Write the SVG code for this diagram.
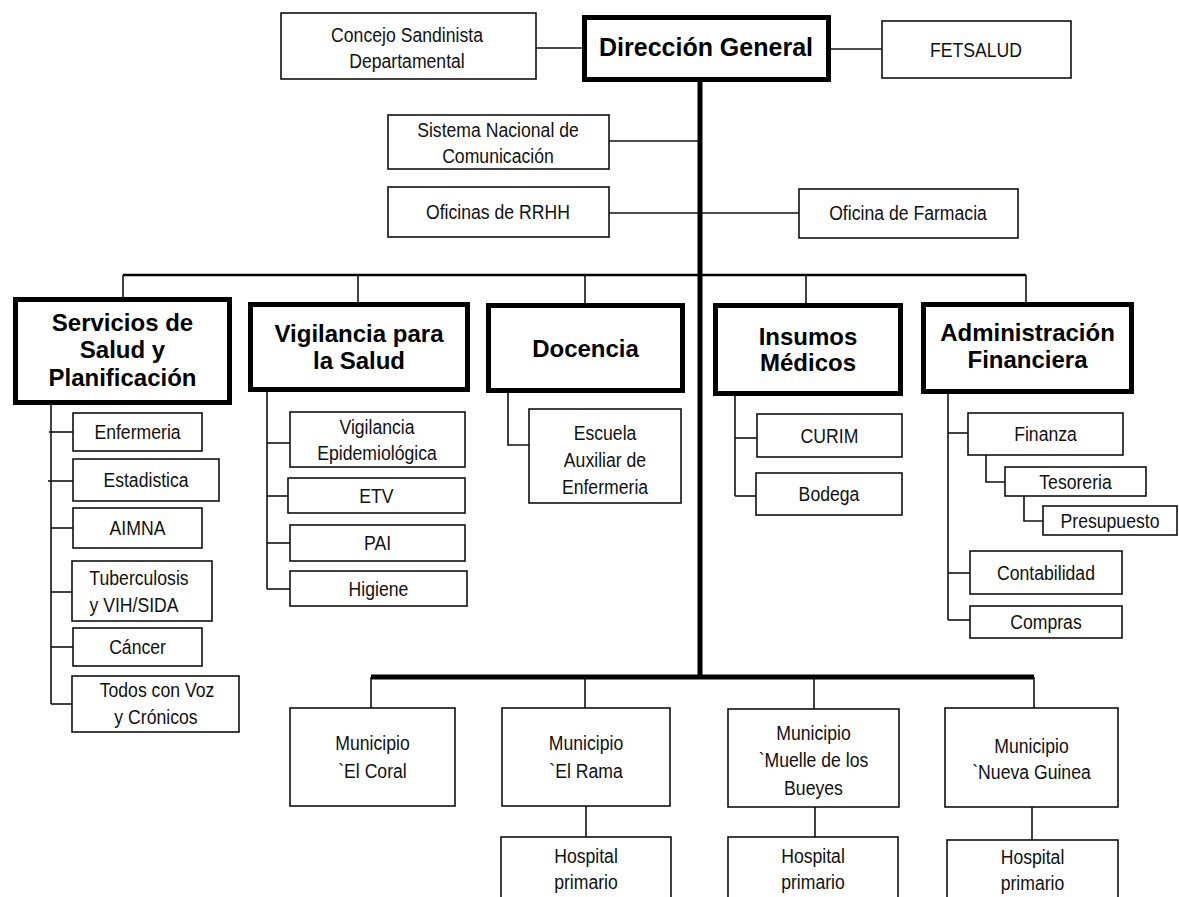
<svg xmlns="http://www.w3.org/2000/svg" width="1179" height="897" viewBox="0 0 1179 897">
<style>
  .bg { fill: #fff; }
  .box { fill: #fff; stroke: #111; stroke-width: 1.6; }
  .hbox { fill: #fff; stroke: #000; stroke-width: 5; }
  .ln { stroke: #111; stroke-width: 1.6; fill: none; }
  .bus { stroke: #000; stroke-width: 2.5; fill: none; }
  .trunk { stroke: #000; stroke-width: 5; fill: none; }
  .t { font-family: "Liberation Sans", Arial, sans-serif; font-size: 21px; text-anchor: middle; fill: #111;
       transform-box: fill-box; transform-origin: center; transform: scaleX(0.84); }
  .h { font-family: "Liberation Sans", Arial, sans-serif; font-size: 24px; font-weight: bold; text-anchor: middle; fill: #000; }
</style>
<rect class="bg" x="0" y="0" width="1179" height="897"/>

<!-- connectors -->
<g id="connectors">
  <!-- top level -->
  <line class="ln" x1="536" y1="48" x2="584" y2="48"/>
  <line class="ln" x1="829" y1="49" x2="882" y2="49"/>
  <line class="ln" x1="609" y1="141" x2="700" y2="141"/>
  <line class="ln" x1="609" y1="213" x2="799" y2="213"/>
  <line class="trunk" x1="700" y1="80" x2="700" y2="679"/>
  <!-- department bus -->
  <line class="bus" x1="123" y1="275" x2="1026" y2="275"/>
  <line class="ln" x1="123" y1="275" x2="123" y2="298"/>
  <line class="ln" x1="358" y1="275" x2="358" y2="303"/>
  <line class="ln" x1="585" y1="275" x2="585" y2="304"/>
  <line class="ln" x1="806" y1="275" x2="806" y2="304"/>
  <line class="ln" x1="1026" y1="275" x2="1026" y2="303"/>
  <!-- Servicios de Salud -->
  <line class="ln" x1="51" y1="404" x2="51" y2="704"/>
  <line class="ln" x1="49" y1="432" x2="73" y2="432"/>
  <line class="ln" x1="48" y1="481" x2="73" y2="481"/>
  <line class="ln" x1="51" y1="528" x2="73" y2="528"/>
  <line class="ln" x1="51" y1="592" x2="72" y2="592"/>
  <line class="ln" x1="51" y1="647" x2="73" y2="647"/>
  <line class="ln" x1="51" y1="704" x2="72" y2="704"/>
  <!-- Vigilancia -->
  <line class="ln" x1="267" y1="391" x2="267" y2="589"/>
  <line class="ln" x1="267" y1="443" x2="290" y2="443"/>
  <line class="ln" x1="267" y1="496" x2="288" y2="496"/>
  <line class="ln" x1="267" y1="543" x2="290" y2="543"/>
  <line class="ln" x1="267" y1="589" x2="290" y2="589"/>
  <!-- Docencia -->
  <polyline class="ln" points="508,392 508,445 529,445"/>
  <!-- Insumos -->
  <line class="ln" x1="735" y1="395" x2="735" y2="496"/>
  <line class="ln" x1="735" y1="438" x2="757" y2="438"/>
  <line class="ln" x1="735" y1="496" x2="756" y2="496"/>
  <!-- Administración -->
  <line class="ln" x1="948" y1="393" x2="948" y2="620"/>
  <line class="ln" x1="948" y1="433" x2="968" y2="433"/>
  <polyline class="ln" points="986,455 986,482 1005,482"/>
  <polyline class="ln" points="1024,496 1024,521 1043,521"/>
  <line class="ln" x1="948" y1="573" x2="970" y2="573"/>
  <line class="ln" x1="948" y1="620" x2="970" y2="620"/>
  <!-- municipal bus -->
  <line class="trunk" x1="371" y1="677" x2="1034" y2="677"/>
  <line class="ln" x1="371" y1="677" x2="371" y2="708"/>
  <line class="ln" x1="585" y1="677" x2="585" y2="708"/>
  <line class="ln" x1="814" y1="677" x2="814" y2="709"/>
  <line class="ln" x1="1034" y1="677" x2="1034" y2="708"/>
  <line class="ln" x1="586" y1="806" x2="586" y2="837"/>
  <line class="ln" x1="815" y1="807" x2="815" y2="837"/>
  <line class="ln" x1="1032" y1="807" x2="1032" y2="840"/>
</g>

<!-- top level -->
<g id="concejo"><rect class="box" x="281" y="13" width="255" height="66"/>
  <text class="t" x="407" y="42">Concejo Sandinista</text><text class="t" x="407" y="68">Departamental</text></g>
<g id="direccion"><rect class="hbox" x="584.5" y="17.5" width="244" height="62"/>
  <text class="h" x="706" y="56" style="font-size:25px">Dirección General</text></g>
<g id="fetsalud"><rect class="box" x="882" y="21" width="189" height="57"/>
  <text class="t" x="976" y="57">FETSALUD</text></g>
<g id="comunicacion"><rect class="box" x="388" y="115" width="221" height="54"/>
  <text class="t" x="498" y="137">Sistema Nacional de</text><text class="t" x="498" y="163">Comunicación</text></g>
<g id="rrhh"><rect class="box" x="388" y="187" width="221" height="50"/>
  <text class="t" x="498" y="219">Oficinas de RRHH</text></g>
<g id="farmacia"><rect class="box" x="799" y="189" width="219" height="49"/>
  <text class="t" x="908" y="220">Oficina de Farmacia</text></g>

<!-- departments -->
<g id="servicios"><rect class="hbox" x="15.5" y="299.5" width="214" height="103"/>
  <text class="h" x="122.5" y="331">Servicios de</text><text class="h" x="122.5" y="358">Salud y</text><text class="h" x="122.5" y="386">Planificación</text></g>
<g id="vigilancia"><rect class="hbox" x="250.5" y="304.5" width="217" height="85"/>
  <text class="h" x="359" y="342">Vigilancia para</text><text class="h" x="359" y="369">la Salud</text></g>
<g id="docencia"><rect class="hbox" x="488.5" y="305.5" width="194" height="85"/>
  <text class="h" x="585.5" y="357">Docencia</text></g>
<g id="insumos"><rect class="hbox" x="715.5" y="305.5" width="185" height="88"/>
  <text class="h" x="808" y="345">Insumos</text><text class="h" x="808" y="371">Médicos</text></g>
<g id="administracion"><rect class="hbox" x="923.5" y="304.5" width="208" height="87"/>
  <text class="h" x="1027.5" y="341">Administración</text><text class="h" x="1027.5" y="368">Financiera</text></g>

<!-- Servicios de Salud y Planificación units -->
<g id="enfermeria"><rect class="box" x="73" y="413" width="129" height="38"/>
  <text class="t" x="137.5" y="439">Enfermeria</text></g>
<g id="estadistica"><rect class="box" x="73" y="459" width="146" height="42"/>
  <text class="t" x="146" y="487">Estadistica</text></g>
<g id="aimna"><rect class="box" x="73" y="508" width="129" height="40"/>
  <text class="t" x="137.5" y="535">AIMNA</text></g>
<g id="tuberculosis"><rect class="box" x="72" y="561" width="140" height="60"/>
  <text class="t" x="139" y="585">Tuberculosis</text><text class="t" x="134" y="612">y VIH/SIDA</text></g>
<g id="cancer"><rect class="box" x="73" y="628" width="129" height="38"/>
  <text class="t" x="137.5" y="654">Cáncer</text></g>
<g id="todos-con-voz"><rect class="box" x="72" y="676" width="167" height="56"/>
  <text class="t" x="157" y="697">Todos con Voz</text><text class="t" x="156" y="724">y Crónicos</text></g>

<!-- Vigilancia units -->
<g id="epidemiologica"><rect class="box" x="290" y="412" width="175" height="55"/>
  <text class="t" x="377" y="434">Vigilancia</text><text class="t" x="377" y="460">Epidemiológica</text></g>
<g id="etv"><rect class="box" x="288" y="478" width="177" height="35"/>
  <text class="t" x="376.5" y="503">ETV</text></g>
<g id="pai"><rect class="box" x="290" y="525" width="175" height="36"/>
  <text class="t" x="377.5" y="550">PAI</text></g>
<g id="higiene"><rect class="box" x="290" y="571" width="177" height="35"/>
  <text class="t" x="378.5" y="596">Higiene</text></g>

<!-- Docencia unit -->
<g id="escuela"><rect class="box" x="529" y="409" width="152" height="94"/>
  <text class="t" x="605" y="440">Escuela</text><text class="t" x="605" y="467">Auxiliar de</text><text class="t" x="605" y="494">Enfermeria</text></g>

<!-- Insumos units -->
<g id="curim"><rect class="box" x="757" y="414" width="145" height="43"/>
  <text class="t" x="829.5" y="443">CURIM</text></g>
<g id="bodega"><rect class="box" x="756" y="473" width="146" height="42"/>
  <text class="t" x="829" y="501">Bodega</text></g>

<!-- Administración units -->
<g id="finanza"><rect class="box" x="968" y="413" width="155" height="42"/>
  <text class="t" x="1045.5" y="441">Finanza</text></g>
<g id="tesoreria"><rect class="box" x="1005" y="467" width="141" height="29"/>
  <text class="t" x="1075.5" y="489">Tesoreria</text></g>
<g id="presupuesto"><rect class="box" x="1043" y="506" width="134" height="29"/>
  <text class="t" x="1110" y="528">Presupuesto</text></g>
<g id="contabilidad"><rect class="box" x="970" y="551" width="152" height="43"/>
  <text class="t" x="1046" y="580">Contabilidad</text></g>
<g id="compras"><rect class="box" x="970" y="606" width="152" height="32"/>
  <text class="t" x="1046" y="629">Compras</text></g>

<!-- municipalities -->
<g id="el-coral"><rect class="box" x="290" y="708" width="165" height="98"/>
  <text class="t" x="372.5" y="750">Municipio</text><text class="t" x="372.5" y="778">`El Coral</text></g>
<g id="el-rama"><rect class="box" x="502" y="708" width="168" height="98"/>
  <text class="t" x="586" y="750">Municipio</text><text class="t" x="586" y="778">`El Rama</text></g>
<g id="muelle"><rect class="box" x="728" y="709" width="171" height="98"/>
  <text class="t" x="813.5" y="740">Municipio</text><text class="t" x="813.5" y="767">`Muelle de los</text><text class="t" x="813.5" y="795">Bueyes</text></g>
<g id="nueva-guinea"><rect class="box" x="945" y="708" width="173" height="99"/>
  <text class="t" x="1031.5" y="753">Municipio</text><text class="t" x="1031.5" y="779">`Nueva Guinea</text></g>

<!-- primary hospitals -->
<g id="hospital-el-rama"><rect class="box" x="501" y="837" width="170" height="70"/>
  <text class="t" x="586" y="863">Hospital</text><text class="t" x="586" y="889">primario</text></g>
<g id="hospital-muelle"><rect class="box" x="728" y="837" width="170" height="70"/>
  <text class="t" x="813" y="863">Hospital</text><text class="t" x="813" y="889">primario</text></g>
<g id="hospital-nueva-guinea"><rect class="box" x="947" y="840" width="171" height="67"/>
  <text class="t" x="1032.5" y="864">Hospital</text><text class="t" x="1032.5" y="890">primario</text></g>
</svg>
